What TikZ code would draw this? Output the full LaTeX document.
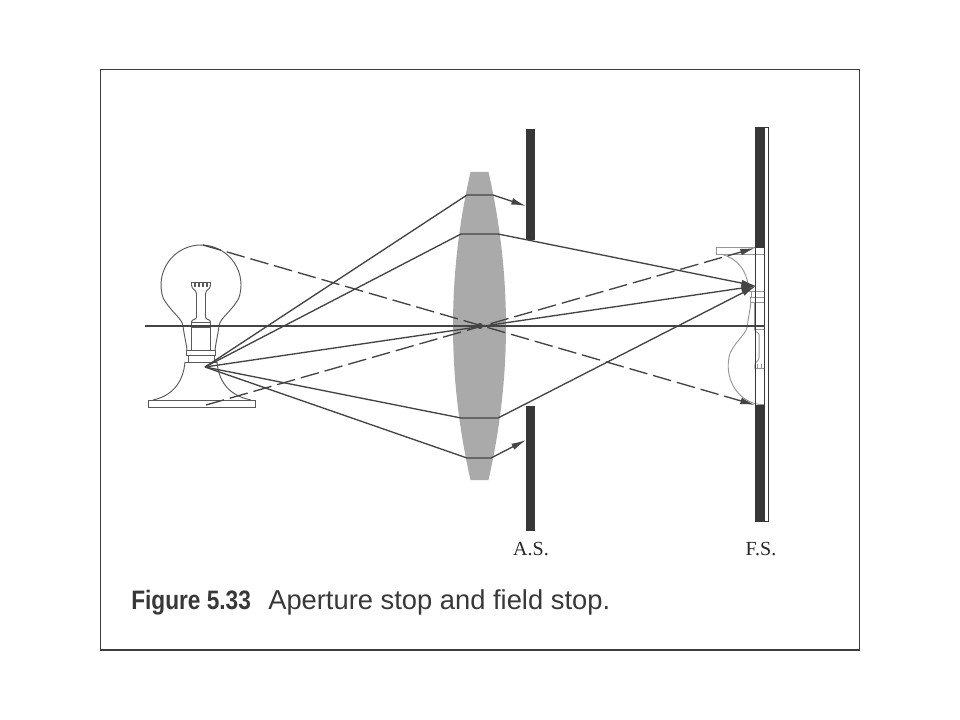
\documentclass[tikz,border=0pt]{standalone}
\usepackage{fontspec}
\setmainfont{Liberation Serif}
\newfontfamily\capfont{Liberation Sans}
\newfontfamily\capbold{Liberation Sans}[FakeStretch=0.85]
\usetikzlibrary{arrows.meta}
\definecolor{raycol}{RGB}{68,68,68}
\definecolor{bulbcol}{RGB}{90,90,90}
\definecolor{imgcol}{RGB}{150,150,150}
\definecolor{lenscol}{RGB}{170,170,170}
\definecolor{barcol}{RGB}{55,55,55}
\definecolor{framecol}{RGB}{60,60,60}
\newcommand\bulbdrawing{%
  % globe
  \draw (-14,24) .. controls (-15,16) and (-17,8) .. (-18,0)
        .. controls (-19,-8) and (-30,-14) .. (-37.59,-27.32)
        arc[start angle=160,end angle=380,radius=40]
        .. controls (30,-14) and (19,-8) .. (18,0)
        .. controls (17,8) and (15,16) .. (14,24);
  % filament holder and stem
  \draw (-9.5,-44) -- (9.5,-44);
  \draw (-9.5,-44) -- (-9.5,-41) .. controls (-9.5,-36) and (-4.5,-37) .. (-4.5,-32)
        -- (-4.5,-9) .. controls (-4.5,-6) and (-9.5,-7) .. (-9.5,-4);
  \draw (9.5,-44) -- (9.5,-41) .. controls (9.5,-36) and (4.5,-37) .. (4.5,-32)
        -- (4.5,-9) .. controls (4.5,-6) and (9.5,-7) .. (9.5,-4);
  \foreach \fx in {-6,-2,2,6} {\draw[line width=0.9pt] (\fx,-43) -- (\fx,-39);}
  % base
  \draw (-9.5,-4) rectangle (9.5,24);
  \draw (-9.5,1) -- (9.5,1);
  % rings
  \draw (-14.5,24) rectangle (14.5,29);
  \draw (-13,29) rectangle (13,36);
  % stand
  \draw (-16,36) -- (16,36);
  \draw (-16,36) .. controls (-18,58) and (-30,70) .. (-48,74);
  \draw (16,36) .. controls (18,58) and (30,70) .. (50,74);
  \draw (-53,74) rectangle (54,81);
}
\begin{document}
\begin{tikzpicture}[x=0.75pt,y=-0.75pt,
  ray/.style={draw=raycol,line width=1pt},
  dashray/.style={ray,dash pattern=on 14pt off 4.5pt},
  tipped/.style={-{Latex[length=11pt,width=5pt]}},
  bulbline/.style={draw=bulbcol,line width=0.7pt},
  imgline/.style={draw=imgcol,line width=0.7pt},
  labelfont/.style={font=\fontsize{15}{17}\selectfont,text=black!85},
]
\useasboundingbox (0,0) rectangle (960,720);
\fill[white] (0,0) rectangle (960,720);
% frame
\draw[framecol,line width=1.2pt] (100.5,69.5) rectangle (859.5,650);

% lens
\fill[lenscol] (470.5,172) -- (488.5,172)
  .. controls (511.8,274.7) and (511.8,377.3) .. (488.5,480)
  -- (470.5,480)
  .. controls (447.2,377.3) and (447.2,274.7) .. (470.5,172);

% object bulb
\begin{scope}[shift={(201,326)},bulbline]
  \bulbdrawing
\end{scope}

% image of bulb (inverted, faint)
\begin{scope}
  \clip (690,235) rectangle (764,415);
  \begin{scope}[shift={(763,326)},xscale=0.87,yscale=-0.97,imgline]
    \bulbdrawing
  \end{scope}
\end{scope}

% aperture stop
\fill[barcol] (526,129) rectangle (535,240);
\fill[barcol] (526,406) rectangle (535,531);

% field stop
\fill[barcol] (755,127) rectangle (765,248);
\fill[barcol] (755,405) rectangle (765,521);
\draw[barcol,line width=0.6pt] (755,127) rectangle (768.5,521);
\draw[barcol,line width=0.6pt] (764.5,127) -- (764.5,521);

% coordinates
\coordinate (O) at (205,367);
\coordinate (C) at (480,326);
\coordinate (I) at (756,286);
\coordinate (axL) at (145,326);
\coordinate (axR) at (765,326);
\coordinate (bulbTop) at (203,245);
\coordinate (bulbBot) at (206,405);
\coordinate (fsLow) at (755,405);
\coordinate (fsUp) at (755,248);
\coordinate (r1a) at (467,195); \coordinate (r1b) at (493,195); \coordinate (r1c) at (526,206);
\coordinate (r2a) at (461,234); \coordinate (r2b) at (498,234);
\coordinate (r4a) at (461,418); \coordinate (r4b) at (498,418);
\coordinate (r5a) at (467,458); \coordinate (r5b) at (491,458); \coordinate (r5c) at (526,440);

% axis
\draw[ray] (axL) -- (axR);

% dashed chief rays
\draw[dashray,tipped] (bulbTop) -- (fsLow);
\draw[dashray,tipped] (bulbBot) -- (fsUp);

% solid rays
\draw[ray,tipped] (O) -- (r1a) -- (r1b) -- (r1c);
\draw[ray,tipped] (O) -- (r2a) -- (r2b) -- (I);
\draw[ray,tipped] (O) -- (I);
\draw[ray,tipped] (O) -- (r4a) -- (r4b) -- (I);
\draw[ray,tipped] (O) -- (r5a) -- (r5b) -- (r5c);

% lens centre
\fill[raycol] (C) circle[radius=3];

% labels
\node[labelfont,anchor=base] (aslabel) at (531,555) {A.S.};
\node[labelfont,anchor=base] (fslabel) at (761,555) {F.S.};

% caption
\node[anchor=base west,inner sep=0pt,text=black!78,font=\capbold\bfseries\fontsize{20}{22}\selectfont] (figno) at (131,609) {Figure 5.33};
\node[anchor=base west,inner sep=0pt,text=black!78,font=\capfont\fontsize{20.5}{22}\selectfont] (captext) at (268,609) {Aperture stop and field stop.};
\end{tikzpicture}
\end{document}
